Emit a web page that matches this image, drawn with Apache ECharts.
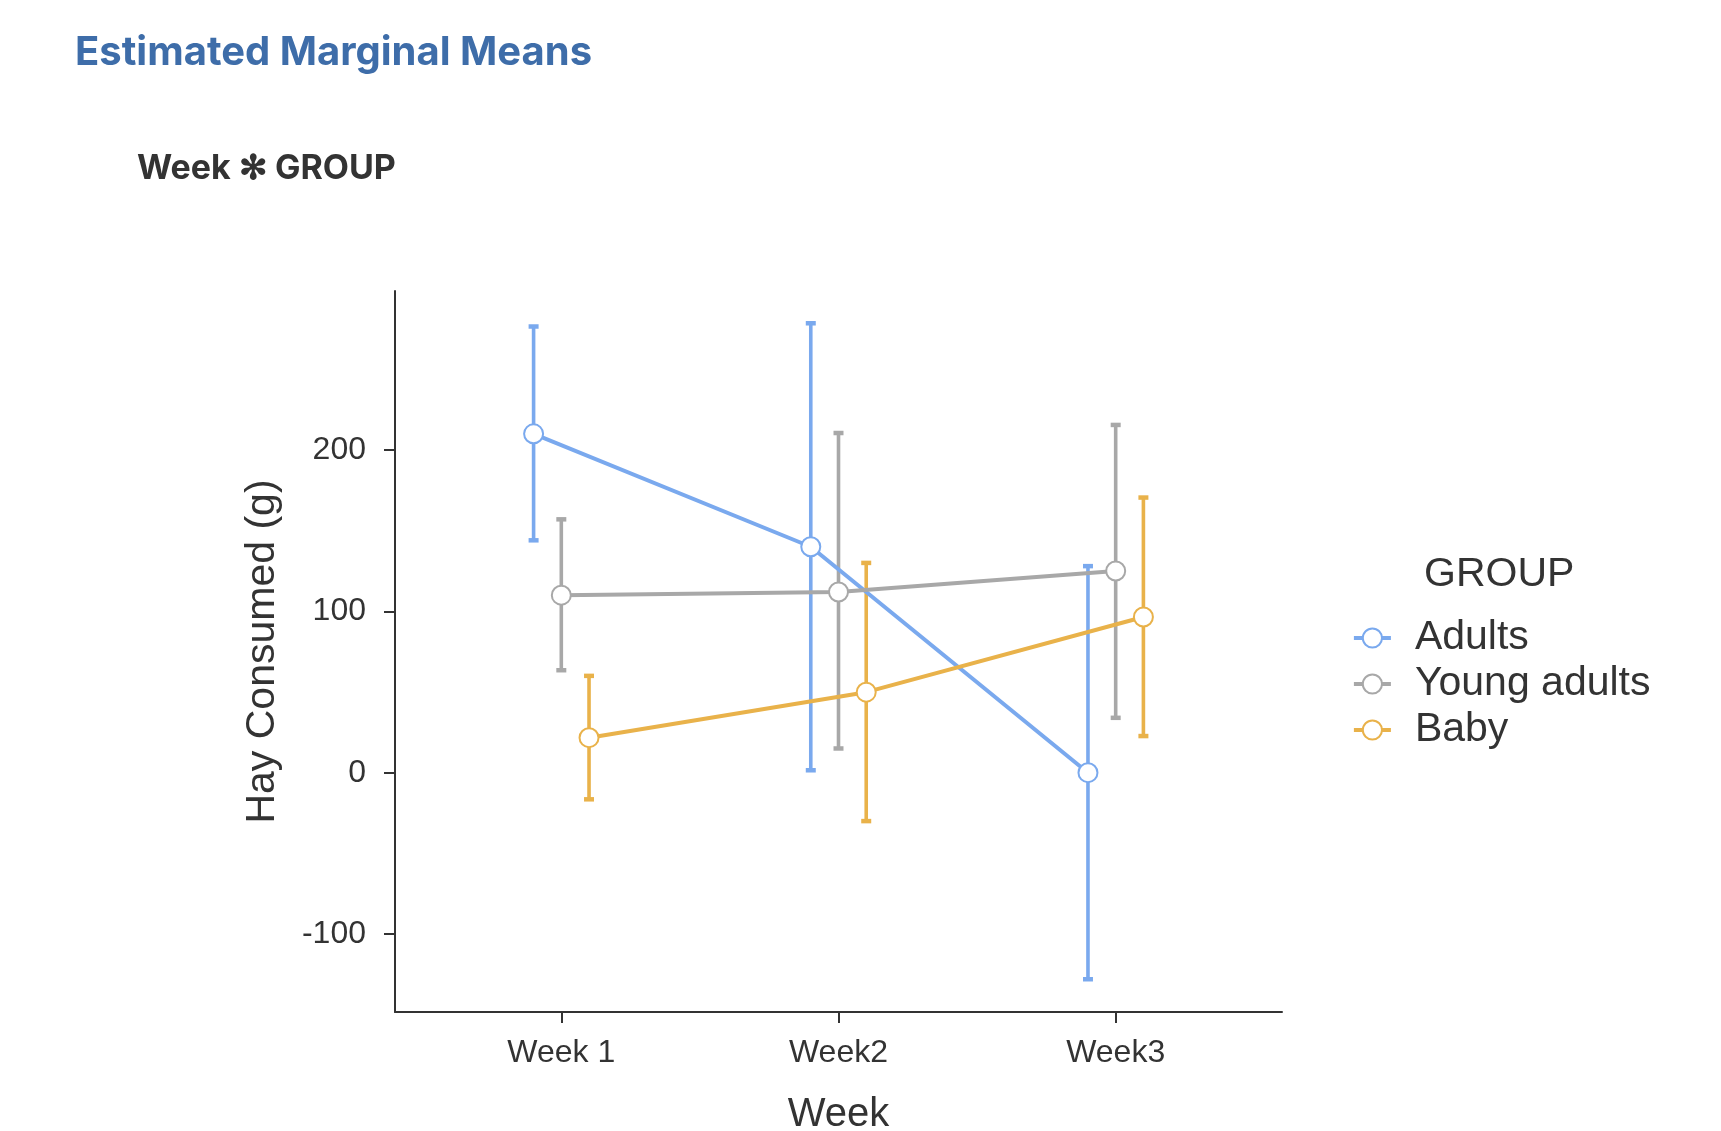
<!DOCTYPE html>
<html>
<head>
<meta charset="utf-8">
<script src="https://cdn.jsdelivr.net/npm/echarts@6/dist/echarts.min.js"></script>
<style>
html,body{margin:0;padding:0;background:#fff;}
#chart{width:1721px;height:1131px;}
</style>
</head>
<body>
<div id="chart"></div>
<script>
const weeks = ['Week 1', 'Week2', 'Week3'];
const groups = ['Adults', 'Young adults', 'Baby'];
const adultsMean = [210, 140, 0];
const adultsLower = [144, 1.5, -128];
const adultsUpper = [276.5, 278.5, 128];
const youngMean = [110, 112, 125];
const youngLower = [63.5, 15, 34];
const youngUpper = [157, 210.5, 215.5];
const babyMean = [21.7, 49.9, 96.5];
const babyLower = [-16.5, -30, 22.7];
const babyUpper = [60, 130, 170.5];
const yTicks = [-100, 0, 100, 200];

const colors = ['#7AA9EE', '#A8A8A8', '#E9B24A'];
const means = [adultsMean, youngMean, babyMean];
const lowers = [adultsLower, youngLower, babyLower];
const uppers = [adultsUpper, youngUpper, babyUpper];
const dodge = 0.1;
const axisFont = 'Liberation Sans';

const series = [];
groups.forEach((g, gi) => {
  const off = (gi - 1) * dodge;
  const color = colors[gi];
  series.push({
    name: g + ' CI',
    type: 'custom',
    z: 2,
    data: weeks.map((w, wi) => [wi + 1 + off, lowers[gi][wi], uppers[gi][wi]]),
    encode: { x: 0, y: [1, 2] },
    renderItem: function (params, api) {
      const x = api.value(0), lo = api.value(1), hi = api.value(2);
      const pLo = api.coord([x, lo]);
      const pHi = api.coord([x, hi]);
      const cap = 5;
      return {
        type: 'group',
        children: [
          { type: 'line', shape: { x1: pLo[0], y1: pLo[1], x2: pHi[0], y2: pHi[1] }, style: { stroke: color, lineWidth: 3.6 } },
          { type: 'line', shape: { x1: pLo[0] - cap, y1: pLo[1], x2: pLo[0] + cap, y2: pLo[1] }, style: { stroke: color, lineWidth: 4.5 } },
          { type: 'line', shape: { x1: pHi[0] - cap, y1: pHi[1], x2: pHi[0] + cap, y2: pHi[1] }, style: { stroke: color, lineWidth: 4.5 } }
        ]
      };
    }
  });
  series.push({
    name: g,
    type: 'line',
    z: 3,
    data: weeks.map((w, wi) => [wi + 1 + off, means[gi][wi]]),
    symbol: 'emptyCircle',
    symbolSize: 19,
    showAllSymbol: true,
    itemStyle: { color: color, borderColor: color, borderWidth: 2 },
    lineStyle: { color: color, width: 4 },
    emphasis: { disabled: true }
  });
});

const chart = echarts.init(document.getElementById('chart'), null, { renderer: 'canvas' });
chart.setOption({
  animation: false,
  backgroundColor: '#ffffff',
  title: [
    {
      text: 'Estimated Marginal Means',
      left: 75, top: 33, padding: 0,
      textStyle: { fontFamily: 'Inter', fontWeight: 'bold', fontSize: 40, color: '#3E6DA9' }
    },
    {
      text: 'Week \u273B GROUP',
      left: 137, top: 152, padding: 0,
      textStyle: { fontFamily: 'Inter', fontWeight: 'bold', fontSize: 34, color: '#333333' }
    }
  ],
  grid: { left: 395, right: 439, top: 291, bottom: 119, containLabel: false, outerBoundsMode: 'none' },
  xAxis: {
    type: 'value',
    min: 0.4, max: 3.6,
    name: 'Week',
    nameLocation: 'middle',
    nameGap: 83,
    nameTextStyle: { fontFamily: axisFont, fontSize: 40, color: '#333333' },
    axisLine: { show: true, onZero: false, lineStyle: { color: '#333333', width: 2 } },
    axisTick: { show: true, length: 11, customValues: [1, 2, 3], lineStyle: { color: '#333333', width: 2 } },
    axisLabel: {
      customValues: [1, 2, 3],
      margin: 25,
      fontFamily: axisFont, fontSize: 32, color: '#333333',
      formatter: v => weeks[Math.round(v) - 1]
    },
    splitLine: { show: false }
  },
  yAxis: {
    type: 'value',
    min: -148.3, max: 298.5,
    name: 'Hay Consumed (g)',
    nameLocation: 'middle',
    nameGap: 112,
    nameTextStyle: { fontFamily: axisFont, fontSize: 41, color: '#333333' },
    axisLine: { show: true, onZero: false, lineStyle: { color: '#333333', width: 2 } },
    axisTick: { show: true, length: 11, customValues: yTicks, lineStyle: { color: '#333333', width: 2 } },
    axisLabel: {
      customValues: yTicks,
      margin: 29,
      fontFamily: axisFont, fontSize: 32, color: '#333333'
    },
    splitLine: { show: false }
  },
  legend: {
    data: groups,
    orient: 'vertical',
    left: 1352, top: 615,
    padding: 0,
    itemWidth: 37, itemHeight: 24,
    itemGap: 0,
    lineStyle: { width: 3.8 },
    itemStyle: { borderWidth: 2 },
    textStyle: { fontFamily: axisFont, fontSize: 41, color: '#333333', lineHeight: 46, padding: [0, 0, 0, 19] },
    selectedMode: false
  },
  graphic: [
    {
      type: 'text',
      left: 1424, top: 554,
      style: { text: 'GROUP', fontFamily: axisFont, fontSize: 41, fill: '#333333' }
    }
  ],
  series: series
});
</script>
</body>
</html>
